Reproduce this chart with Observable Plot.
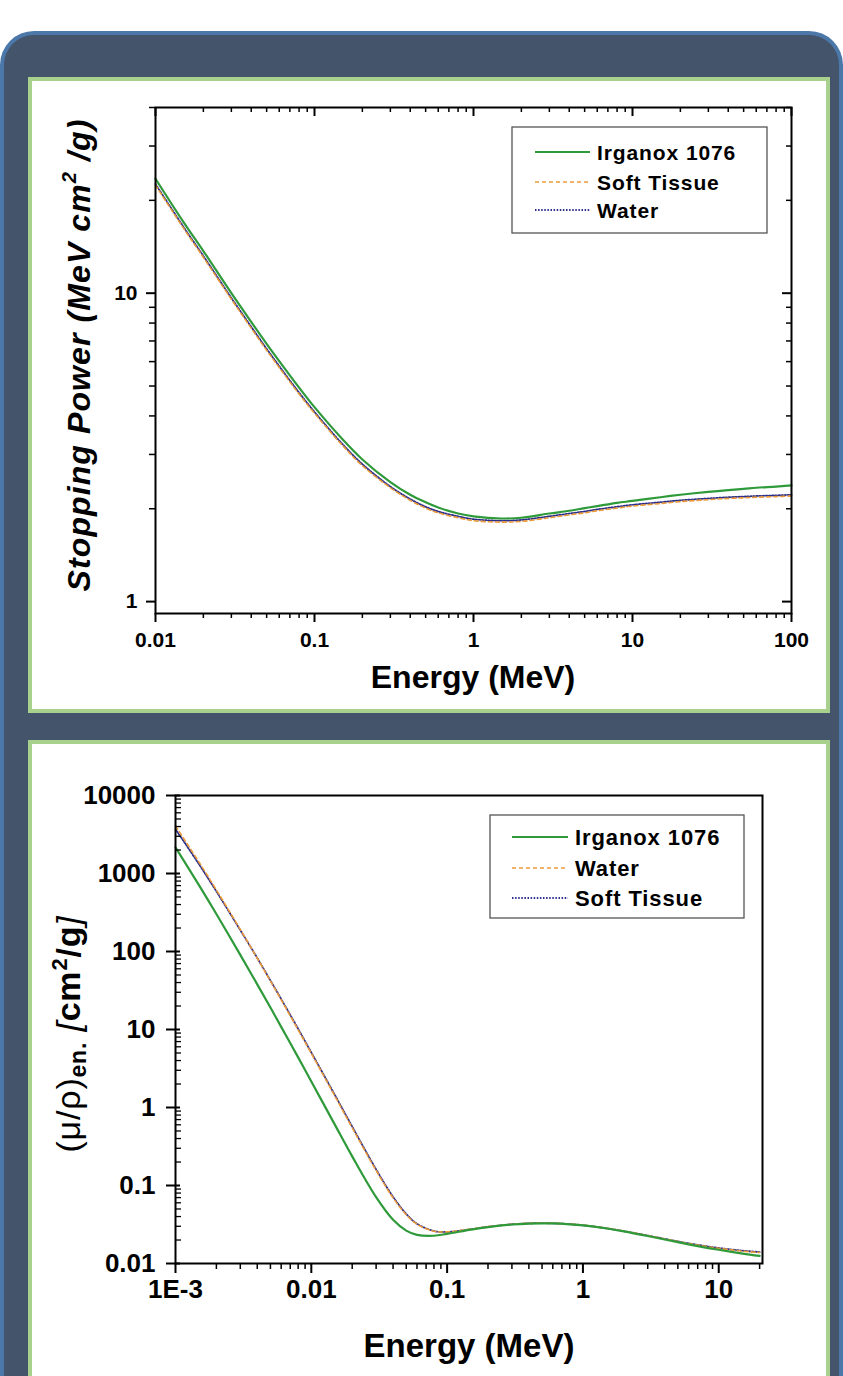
<!DOCTYPE html>
<html><head><meta charset="utf-8">
<script src="https://cdn.jsdelivr.net/npm/d3@7"></script>
<script src="https://cdn.jsdelivr.net/npm/@observablehq/plot@0.6"></script>
<style>
html,body{margin:0;padding:0;background:#fff;width:843px;height:1376px;overflow:hidden;position:relative;}
#bg{position:absolute;left:0;top:31px;width:835px;height:1400px;background:#44546a;border:4px solid #4b77a9;border-bottom:none;border-radius:34px 34px 0 0;}
.panel{position:absolute;left:28px;width:794px;background:#fff;border:4px solid #a9d18e;}
#p1{top:77px;height:628px;}
#p2{top:740px;height:640px;}
.chart{position:absolute;left:0;}
#c1{top:78px;}
#c2{top:740px;}
</style></head>
<body>
<div id="bg"></div>
<div class="panel" id="p1"></div>
<div class="panel" id="p2"></div>
<div class="chart" id="c1"></div>
<div class="chart" id="c2"></div>
<script>
// ---------- Chart 1 data: electron stopping power ----------
const energySP = [0.01, 0.015, 0.02, 0.03, 0.04, 0.05, 0.06, 0.08, 0.1, 0.15, 0.2, 0.3, 0.4, 0.5, 0.6, 0.8, 1, 1.5, 2, 3, 4, 5, 6, 8, 10, 15, 20, 30, 40, 50, 60, 80, 100];
const irganoxSP = [23.5, 17.0, 13.7, 10.0, 8.07, 6.85, 6.02, 4.94, 4.27, 3.36, 2.89, 2.44, 2.22, 2.10, 2.02, 1.93, 1.89, 1.86, 1.87, 1.93, 1.97, 2.01, 2.04, 2.09, 2.12, 2.18, 2.22, 2.27, 2.30, 2.32, 2.34, 2.36, 2.38];
const softTissueSP = [22.4, 16.25, 13.07, 9.56, 7.70, 6.53, 5.74, 4.71, 4.08, 3.21, 2.76, 2.34, 2.13, 2.01, 1.94, 1.87, 1.83, 1.81, 1.82, 1.87, 1.91, 1.94, 1.97, 2.01, 2.04, 2.08, 2.11, 2.14, 2.16, 2.17, 2.18, 2.19, 2.20];
const waterSP = [22.6, 16.4, 13.2, 9.65, 7.78, 6.60, 5.80, 4.76, 4.12, 3.24, 2.79, 2.36, 2.15, 2.03, 1.96, 1.89, 1.85, 1.83, 1.84, 1.89, 1.93, 1.96, 1.99, 2.03, 2.06, 2.10, 2.13, 2.16, 2.18, 2.19, 2.20, 2.21, 2.22];
const legend1 = ["Irganox 1076", "Soft Tissue", "Water"];
const xTicks1 = [0.01, 0.1, 1, 10, 100];
const xTickLabels1 = ["0.01", "0.1", "1", "10", "100"];
const yTicks1 = [1, 10];
const yTickLabels1 = ["1", "10"];

// ---------- Chart 2 data: mass energy-absorption coefficient ----------
const energyMu = [0.001, 0.0015, 0.002, 0.003, 0.004, 0.005, 0.006, 0.008, 0.01, 0.015, 0.02, 0.03, 0.04, 0.05, 0.06, 0.08, 0.1, 0.15, 0.2, 0.3, 0.4, 0.5, 0.6, 0.8, 1, 1.5, 2, 3, 4, 5, 6, 8, 10, 15, 20];
const irganoxMu = [2165, 694, 302, 90.6, 37.9, 19.1, 10.8, 4.39, 2.16, 0.59, 0.236, 0.0708, 0.0363, 0.0264, 0.0233, 0.0227, 0.0240, 0.0272, 0.0293, 0.0316, 0.0325, 0.0327, 0.0326, 0.0318, 0.0308, 0.0281, 0.0258, 0.0225, 0.0203, 0.0188, 0.0176, 0.0160, 0.0150, 0.0134, 0.0125];
const waterMu = [4065, 1372, 615.2, 191.7, 81.91, 41.88, 24.05, 9.915, 4.944, 1.374, 0.5503, 0.1557, 0.06947, 0.04223, 0.03190, 0.02597, 0.02546, 0.02764, 0.02967, 0.03192, 0.03279, 0.03299, 0.03284, 0.03206, 0.03103, 0.02833, 0.02608, 0.02281, 0.02066, 0.01915, 0.01806, 0.01658, 0.01566, 0.01441, 0.01382];
const softTissueMu = [3700, 1290, 590, 188, 82.5, 42.5, 24.6, 10.2, 5.08, 1.42, 0.570, 0.161, 0.0716, 0.0432, 0.0323, 0.0261, 0.0254, 0.0275, 0.0295, 0.0318, 0.0327, 0.0329, 0.0327, 0.0320, 0.0309, 0.0282, 0.0260, 0.0228, 0.0207, 0.0192, 0.0181, 0.0167, 0.0158, 0.0146, 0.0140];
const legend2 = ["Irganox 1076", "Water", "Soft Tissue"];
const xTicks2 = [0.001, 0.01, 0.1, 1, 10];
const xTickLabels2 = ["1E-3", "0.01", "0.1", "1", "10"];
const yTicks2 = [0.01, 0.1, 1, 10, 100, 1000, 10000];
const yTickLabels2 = ["0.01", "0.1", "1", "10", "100", "1000", "10000"];

const GREEN = "#2f9a3a", ORANGE = "#eb9a3c", NAVY = "#2c2f8a";
const FONT = "'Liberation Sans', Arial, Helvetica, sans-serif";

function minorTicks(decades, maxV) {
  const out = [];
  for (const d of decades) for (let k = 2; k <= 9; k++) {
    const v = +(d * k).toPrecision(3);
    if (v <= maxV) out.push(v);
  }
  return out;
}
const fmt = (ticks, labels) => d => labels[ticks.indexOf(d)] ?? "";
const blank = () => "";

// ===== Chart 1 =====
const W = 843;
const H1 = 634, mt1 = 29, mb1 = 99, ml1 = 155, mr1 = 52;
const fw1 = W - ml1 - mr1, fh1 = H1 - mt1 - mb1;
const sp = energySP.flatMap((e, i) => [
  {e, v: irganoxSP[i], m: legend1[0]},
  {e, v: softTissueSP[i], m: legend1[1]},
  {e, v: waterSP[i], m: legend1[2]}
]);
const minX1 = minorTicks([0.01, 0.1, 1, 10], 100);
const minY1 = minorTicks([1, 10], 40);

const chart1 = Plot.plot({
  width: W, height: H1, marginTop: mt1, marginBottom: mb1, marginLeft: ml1, marginRight: mr1,
  x: {type: "log", domain: [0.01, 100]},
  y: {type: "log", domain: [0.915, 40]},
  style: {background: "transparent", fontFamily: FONT, fontWeight: "bold", fontSize: "21px", color: "#000", overflow: "visible"},
  marks: [
    Plot.line(sp.filter(d => d.m === "Water"), {x: "e", y: "v", stroke: NAVY, strokeWidth: 1.8, strokeDasharray: "1.5,1.6", curve: "catmull-rom"}),
    Plot.line(sp.filter(d => d.m === "Soft Tissue"), {x: "e", y: "v", stroke: ORANGE, strokeWidth: 1.6, strokeDasharray: "4,3", curve: "catmull-rom"}),
    Plot.line(sp.filter(d => d.m === "Irganox 1076"), {x: "e", y: "v", stroke: GREEN, strokeWidth: 2.2, curve: "catmull-rom"}),
    Plot.frame({stroke: "#000", strokeWidth: 2}),
    Plot.axisX(xTicks1, {tickSize: 9, tickPadding: 10, tickFormat: fmt(xTicks1, xTickLabels1), label: null, strokeWidth: 2}),
    Plot.axisX(minX1, {tickSize: 5, tickFormat: blank, label: null, strokeWidth: 1.5}),
    Plot.tickX(xTicks1, {x: d => d, insetBottom: fh1 - 9, strokeWidth: 2}),
    Plot.tickX(minX1, {x: d => d, insetBottom: fh1 - 5, strokeWidth: 1.5}),
    Plot.axisY(yTicks1, {tickSize: 9, tickPadding: 9, tickFormat: fmt(yTicks1, yTickLabels1), label: null, strokeWidth: 2}),
    Plot.axisY(minY1, {tickSize: 6, tickFormat: blank, label: null, strokeWidth: 1.5}),
    Plot.tickY(yTicks1, {y: d => d, insetLeft: fw1 - 9, strokeWidth: 2}),
    Plot.tickY(minY1, {y: d => d, insetLeft: fw1 - 5, strokeWidth: 1.5})
  ]
});
document.getElementById("c1").appendChild(chart1);

// ===== Chart 2 =====
const H2 = 636, mt2 = 55, mb2 = 113, ml2 = 175, mr2 = 81;
const fw2 = W - ml2 - mr2, fh2 = H2 - mt2 - mb2;
const mu = energyMu.flatMap((e, i) => [
  {e, v: irganoxMu[i], m: legend2[0]},
  {e, v: waterMu[i], m: legend2[1]},
  {e, v: softTissueMu[i], m: legend2[2]}
]);
const minX2 = minorTicks([0.001, 0.01, 0.1, 1, 10], 20);
const minY2 = minorTicks([0.01, 0.1, 1, 10, 100, 1000], 10000);

const chart2 = Plot.plot({
  width: W, height: H2, marginTop: mt2, marginBottom: mb2, marginLeft: ml2, marginRight: mr2,
  x: {type: "log", domain: [0.001, 21]},
  y: {type: "log", domain: [0.01, 10000]},
  style: {background: "transparent", fontFamily: FONT, fontWeight: "bold", fontSize: "26px", color: "#000", overflow: "visible"},
  marks: [
    Plot.line(mu.filter(d => d.m === "Soft Tissue"), {x: "e", y: "v", stroke: NAVY, strokeWidth: 1.8, strokeDasharray: "1.5,1.6", curve: "catmull-rom"}),
    Plot.line(mu.filter(d => d.m === "Water"), {x: "e", y: "v", stroke: ORANGE, strokeWidth: 1.6, strokeDasharray: "4,3", curve: "catmull-rom"}),
    Plot.line(mu.filter(d => d.m === "Irganox 1076"), {x: "e", y: "v", stroke: GREEN, strokeWidth: 2.2, curve: "catmull-rom"}),
    Plot.frame({stroke: "#000", strokeWidth: 2}),
    Plot.axisX(xTicks2, {tickSize: 10, tickPadding: 6, tickFormat: fmt(xTicks2, xTickLabels2), label: null, strokeWidth: 2}),
    Plot.axisX(minX2, {tickSize: 6, tickFormat: blank, label: null, strokeWidth: 1.5}),
    Plot.axisY(yTicks2, {tickSize: 9, tickPadding: 11, tickFormat: fmt(yTicks2, yTickLabels2), label: null, strokeWidth: 2}),
    Plot.tickY(yTicks2, {y: d => d, insetRight: fw2 - 5, strokeWidth: 2}),
    Plot.tickY(minY2, {y: d => d, insetRight: fw2 - 6, strokeWidth: 1.3})
  ]
});
document.getElementById("c2").appendChild(chart2);

// ===== Titles and legends =====
function legend(svg, box, rows, lineX, textX, items, styles, fs) {
  const g = d3.select(svg).append("g");
  g.append("rect").attr("x", box[0]).attr("y", box[1]).attr("width", box[2]).attr("height", box[3])
    .attr("fill", "#fff").attr("stroke", "#555").attr("stroke-width", 1.3);
  items.forEach((name, i) => {
    const s = styles[i];
    g.append("line").attr("x1", lineX[0]).attr("x2", lineX[1]).attr("y1", rows[i]).attr("y2", rows[i])
      .attr("stroke", s.stroke).attr("stroke-width", s.w).attr("stroke-dasharray", s.dash || null);
    g.append("text").attr("x", textX).attr("y", rows[i]).attr("dy", "0.36em").attr("text-anchor", "start")
      .attr("font-family", FONT).attr("font-weight", "bold").attr("font-size", fs).attr("letter-spacing", "0.9px")
      .attr("fill", "#000").text(name);
  });
}
const sGreen = {stroke: GREEN, w: 2.2}, sOrange = {stroke: ORANGE, w: 1.6, dash: "4,3"}, sNavy = {stroke: NAVY, w: 1.8, dash: "1.5,1.6"};

// chart 1
legend(chart1, [512, 49, 255, 106], [74, 104, 132], [535, 590], 597, legend1, [sGreen, sOrange, sNavy], 21);
d3.select(chart1).append("text").attr("x", 473).attr("y", 610).attr("text-anchor", "middle")
  .attr("font-family", FONT).attr("font-weight", "bold").attr("font-size", 32).attr("fill", "#000").text("Energy (MeV)");
{
  const t = d3.select(chart1).append("text").attr("transform", "translate(90,277) rotate(-90)")
    .attr("text-anchor", "middle").attr("font-family", FONT).attr("font-weight", "bold").attr("font-style", "italic")
    .attr("font-size", 32).attr("letter-spacing", "1.1px").attr("fill", "#000");
  t.append("tspan").text("Stopping Power (MeV cm");
  t.append("tspan").attr("font-size", 20).attr("dy", -14).text("2");
  t.append("tspan").attr("dy", 14).text(" /g)");
}

// chart 2
legend(chart2, [490, 75, 254, 103], [97, 128, 158], [512, 568], 575, legend2, [sGreen, sOrange, sNavy], 22);
d3.select(chart2).append("text").attr("x", 469).attr("y", 617).attr("text-anchor", "middle")
  .attr("font-family", FONT).attr("font-weight", "bold").attr("font-size", 33).attr("fill", "#000").text("Energy (MeV)");
{
  const t = d3.select(chart2).append("text").attr("transform", "translate(80,294) rotate(-90)")
    .attr("text-anchor", "middle").attr("font-family", FONT).attr("font-weight", "normal").attr("font-size", 34).attr("letter-spacing", "0.8px").attr("fill", "#000");
  t.append("tspan").attr("font-weight", "normal").text("(μ/ρ)");
  t.append("tspan").attr("font-weight", "bold").attr("font-size", 23).attr("dy", 6).text("en.");
  t.append("tspan").attr("font-weight", "normal").attr("font-style", "italic").attr("dy", -6).text(" [");
  t.append("tspan").attr("font-weight", "bold").text("cm");
  t.append("tspan").attr("font-weight", "bold").attr("font-size", 22).attr("dy", -13).text("2");
  t.append("tspan").attr("font-weight", "bold").attr("dy", 13).text("/g");
  t.append("tspan").attr("font-weight", "normal").attr("font-style", "italic").text("]");
}
</script>
</body></html>
